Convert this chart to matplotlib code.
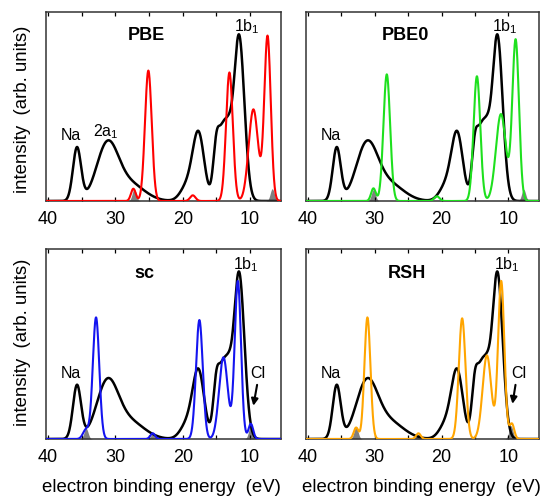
import numpy as np
import matplotlib
matplotlib.use("Agg")
import matplotlib.pyplot as plt

plt.rcParams['font.family'] = ['Liberation Sans', 'DejaVu Sans']
plt.rcParams['mathtext.fontset'] = 'custom'
plt.rcParams['mathtext.rm'] = 'Liberation Sans'
plt.rcParams['mathtext.it'] = 'Liberation Sans:italic'

exp_centers = [35.7, 31.2, 27.9, 19.3, 17.65, 14.95, 14.0, 13.2, 11.65]
exp_heights = [0.28, 0.29, 0.09, 0.08, 0.35, 0.32, 0.29, 0.24, 0.88]
exp_widths = [0.60, 1.60, 2.20, 1.00, 0.85, 0.50, 0.50, 0.50, 0.80]

# PBE (red)
pbe_centers = [27.33, 25.1, 18.5, 13.06, 9.5, 7.4]
pbe_heights = [0.065, 0.69, 0.03, 0.68, 0.485, 0.87]
pbe_widths = [0.35, 0.5, 0.4, 0.5, 0.7, 0.48]
pbe_gray_centers = [27.2, 6.7]
pbe_gray_heights = [0.065, 0.065]

# PBE0 (green)
pbe0_centers = [30.2, 28.2, 20.7, 14.7, 11.1, 8.9]
pbe0_heights = [0.067, 0.67, 0.025, 0.66, 0.46, 0.85]
pbe0_widths = [0.35, 0.5, 0.4, 0.5, 0.75, 0.5]
pbe0_gray_centers = [30.2, 7.7]
pbe0_gray_heights = [0.06, 0.062]

# sc (blue)
sc_centers = [34.35, 32.87, 24.45, 17.52, 13.95, 11.81, 9.88]
sc_heights = [0.05, 0.64, 0.03, 0.626, 0.43, 0.83, 0.08]
sc_widths = [0.45, 0.48, 0.35, 0.5, 0.65, 0.47, 0.35]
sc_gray_centers = [34.35, 24.45, 9.9]
sc_gray_heights = [0.056, 0.025, 0.07]

# RSH (orange)
rsh_centers = [32.8, 31.1, 23.46, 16.91, 13.2, 11.06, 9.46]
rsh_heights = [0.06, 0.64, 0.03, 0.635, 0.44, 0.83, 0.08]
rsh_widths = [0.35, 0.45, 0.35, 0.5, 0.65, 0.47, 0.35]
rsh_gray_centers = [32.8, 23.46, 9.6]
rsh_gray_heights = [0.065, 0.025, 0.07]

energy = np.linspace(40.5, 5.0, 2000)


def spectrum(centers, heights, widths):
    y = np.zeros_like(energy)
    for c, h, w in zip(centers, heights, widths):
        y += h * np.exp(-(energy - c) ** 2 / (2 * w ** 2))
    return y


panels = [
    ("PBE", pbe_centers, pbe_heights, pbe_widths, pbe_gray_centers, pbe_gray_heights, '#ff0000'),
    ("PBE0", pbe0_centers, pbe0_heights, pbe0_widths, pbe0_gray_centers, pbe0_gray_heights, '#1ee01e'),
    ("sc", sc_centers, sc_heights, sc_widths, sc_gray_centers, sc_gray_heights, '#1414f0'),
    ("RSH", rsh_centers, rsh_heights, rsh_widths, rsh_gray_centers, rsh_gray_heights, '#ffa500'),
]

# label positions (energy, height) per panel
title_pos = [(25.33, 0.878), (25.46, 0.878), (25.69, 0.872), (25.2, 0.872)]
na_pos = [(36.54, 0.344), (36.55, 0.349), (36.58, 0.346), (36.6, 0.346)]
b1_pos = [(10.48, 0.922), (10.46, 0.922), (10.58, 0.916), (10.2, 0.916)]

fig = plt.figure(figsize=(5.43, 5.01), dpi=100)
rects = [
    [46 / 543, 1 - 201 / 501, 235 / 543, 189 / 501],
    [306 / 543, 1 - 201 / 501, 233 / 543, 189 / 501],
    [46 / 543, 1 - 439 / 501, 235 / 543, 190 / 501],
    [306 / 543, 1 - 439 / 501, 233 / 543, 190 / 501],
]

black = spectrum(exp_centers, exp_heights, exp_widths)

for i, (name, cs, hs, ws, gcs, ghs, col) in enumerate(panels):
    ax = fig.add_axes(rects[i])
    gray = spectrum(gcs, ghs, [0.3] * len(gcs))
    ax.fill_between(energy, 0, gray, color='#808080', lw=0, zorder=1)
    ax.plot(energy, black, color='black', lw=1.8, zorder=2)
    ax.plot(energy, spectrum(cs, hs, ws), color=col, lw=1.5, zorder=3)

    ax.set_xlim(40.3, 5.4)
    ax.set_ylim(0, 1)
    ax.set_xticks([40, 30, 20, 10])
    ax.set_xticks([35, 25, 15], minor=True)
    ax.set_yticks([])
    ax.tick_params(axis='x', which='both', direction='in', top=True, bottom=True,
                   length=3, width=0.9, pad=7, labelsize=13)
    for sp in ax.spines.values():
        sp.set_linewidth(1.1)
        sp.set_color('#333333')

    ax.text(*title_pos[i], name, fontsize=13, fontweight='bold', ha='center', va='center')
    ax.text(*na_pos[i], "Na", fontsize=11.5, ha='center', va='center')
    ax.text(*b1_pos[i], r"1b$_\mathrm{1}$", fontsize=11.5, ha='center', va='center')
    if i == 0:
        ax.text(31.38, 0.367, r"2a$_\mathrm{1}$", fontsize=11.5, ha='center', va='center')
    arrow = dict(arrowstyle='-|>', color='black', lw=1.5, mutation_scale=10,
                 shrinkA=0, shrinkB=0)
    if i == 2:
        ax.text(8.9, 0.346, "Cl", fontsize=11.5, ha='center', va='center')
        ax.annotate('', xy=(9.5, 0.175), xytext=(8.95, 0.285), arrowprops=arrow)
    if i == 3:
        ax.text(8.47, 0.346, "Cl", fontsize=11.5, ha='center', va='center')
        ax.annotate('', xy=(9.37, 0.185), xytext=(8.92, 0.285), arrowprops=arrow)

fig.text(23 / 543, 1 - 109 / 501, "intensity  (arb. units)", rotation=90,
         ha='center', va='center', fontsize=13.4)
fig.text(23 / 543, 1 - 342 / 501, "intensity  (arb. units)", rotation=90,
         ha='center', va='center', fontsize=13.4)
fig.text(161 / 543, 1 - 487 / 501, "electron binding energy  (eV)",
         ha='center', va='center', fontsize=13.4)
fig.text(421 / 543, 1 - 487 / 501, "electron binding energy  (eV)",
         ha='center', va='center', fontsize=13.4)

fig.savefig("out.png", dpi=100)
